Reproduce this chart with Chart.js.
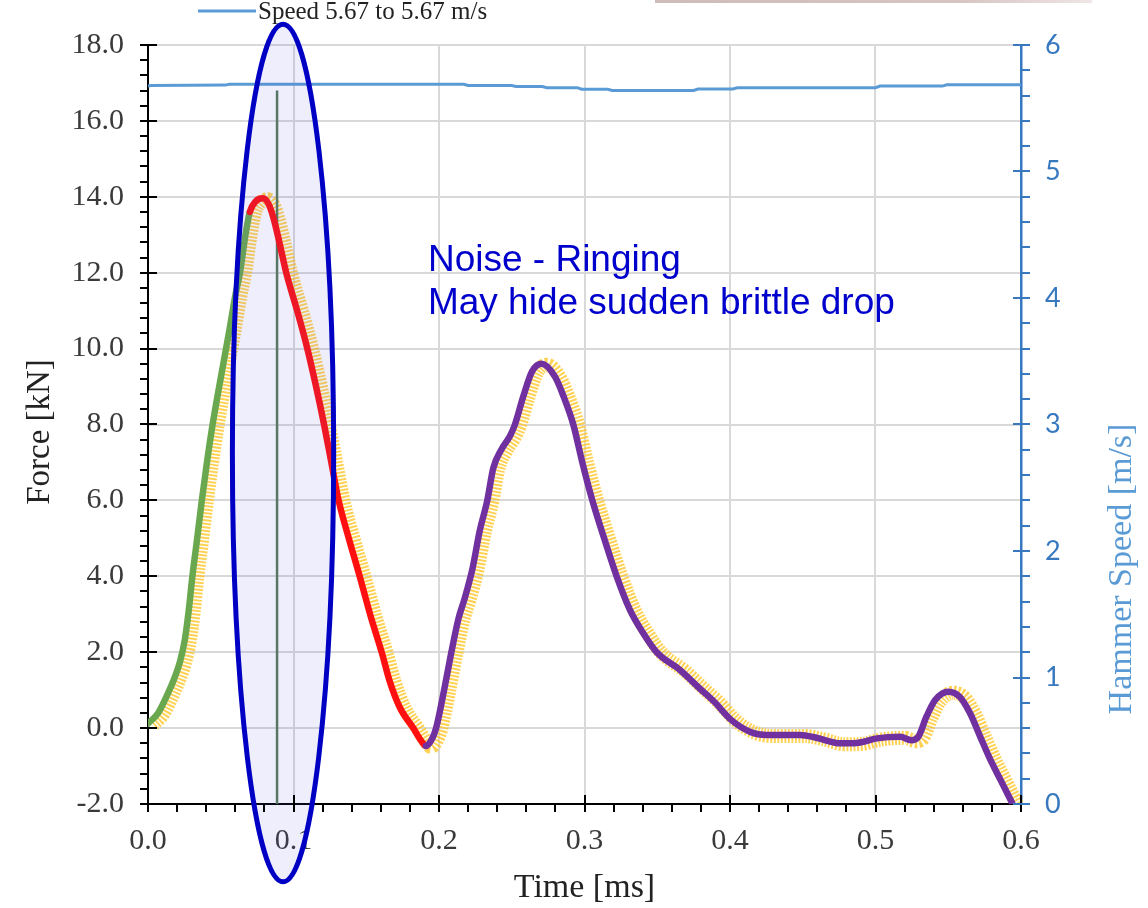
<!DOCTYPE html>
<html>
<head>
<meta charset="utf-8">
<title>Force and hammer speed vs time</title>
<script src="https://cdn.jsdelivr.net/npm/chart.js@4.4.1/dist/chart.umd.min.js"></script>
<style>
  html, body { margin:0; padding:0; background:#fff; }
  #wrap { position:relative; width:1148px; height:908px; }
  #topBar { position:absolute; left:655px; top:0; width:437px; height:3px;
            background:linear-gradient(90deg,#cdbcb9,#d6c5c3 70%,#efe6e5); }
</style>
</head>
<body>
<div id="wrap">
  <canvas id="forceChart"></canvas>
  <div id="topBar"></div>
</div>
<script>
// impact force trace [ms, kN]
const time = [0.000, 0.007, 0.014, 0.018, 0.022, 0.0254, 0.028, 0.0305, 0.0338, 0.037,
  0.0405, 0.0444, 0.048, 0.052, 0.056, 0.060, 0.0632, 0.067, 0.070, 0.074,
  0.079, 0.083, 0.086, 0.090, 0.095, 0.1025, 0.1095, 0.1155, 0.121, 0.126,
  0.131, 0.138, 0.1455, 0.153, 0.1606, 0.166, 0.173, 0.1823, 0.188, 0.191,
  0.195, 0.198, 0.203, 0.2085, 0.2135, 0.2175, 0.223, 0.228, 0.2332, 0.2373,
  0.243, 0.2488, 0.2522, 0.258, 0.264, 0.2706, 0.2797, 0.286, 0.2923, 0.2985,
  0.3054, 0.3135, 0.3221, 0.3313, 0.3404, 0.3496, 0.3656, 0.379, 0.389, 0.401,
  0.414, 0.425, 0.448, 0.460, 0.4756, 0.487, 0.501, 0.517, 0.5245, 0.5294,
  0.535, 0.541, 0.550, 0.558, 0.565, 0.572, 0.579, 0.586, 0.594];
const force = [0.12, 0.40, 0.94, 1.30, 1.75, 2.35, 3.10, 4.00, 5.00, 6.00,
  7.00, 8.00, 8.80, 9.65, 10.50, 11.40, 12.00, 13.00, 13.60, 13.88,
  13.96, 13.80, 13.47, 12.85, 12.00, 11.00, 10.00, 9.00, 8.00, 7.00,
  6.00, 5.00, 4.00, 2.95, 2.00, 1.25, 0.55, 0.00, -0.35, -0.47,
  -0.30, 0.00, 0.90, 2.00, 2.90, 3.40, 4.20, 5.20, 6.00, 6.85,
  7.35, 7.70, 8.00, 8.75, 9.40, 9.60, 9.26, 8.70, 8.00, 7.00,
  6.00, 5.00, 4.00, 3.11, 2.50, 2.00, 1.53, 1.05, 0.70, 0.21,
  -0.10, -0.18, -0.18, -0.26, -0.40, -0.39, -0.27, -0.23, -0.32, -0.23,
  0.30, 0.74, 0.96, 0.82, 0.39, -0.23, -0.84, -1.37, -1.98];

// phase boundaries of the filtered trace [ms]
const loadingEnd = 0.070;
const firstDropEnd = 0.191;

// hammer speed [ms, m/s]
const speedTime = [0.000, 0.002, 0.053, 0.056, 0.217, 0.220, 0.250, 0.253, 0.271, 0.274,
  0.295, 0.298, 0.316, 0.319, 0.375, 0.378, 0.402, 0.405, 0.500, 0.503,
  0.546, 0.549, 0.600];
const speed = [5.675, 5.680, 5.683, 5.690, 5.690, 5.680, 5.680, 5.672, 5.672, 5.663,
  5.663, 5.650, 5.650, 5.640, 5.640, 5.652, 5.652, 5.662, 5.662, 5.675,
  5.675, 5.685, 5.685];

// peak marker
const markTime = [0.0887, 0.0887];
const markForce = [-2.0, 16.8];

const speedLabel = 'Speed 5.67 to 5.67 m/s';
const noteLines = ['Noise - Ringing', 'May hide sudden brittle drop'];

const pts = (xs, ys) => xs.map((v, i) => ({ x: v, y: ys[i] }));

function phaseColor(t) {
  if (t < loadingEnd) return '#6aa84f';
  if (t < firstDropEnd) return '#ff1010';
  return '#7030a0';
}

const serif = 'Liberation Serif, Times New Roman, serif';

function sideTitle(ctx, text, cx, cy, size, color) {
  ctx.save();
  ctx.translate(cx, cy);
  ctx.rotate(-Math.PI / 2);
  ctx.fillStyle = color;
  ctx.font = size + 'px ' + serif;
  ctx.textAlign = 'center';
  ctx.textBaseline = 'middle';
  ctx.fillText(text, 0, 0);
  ctx.restore();
}

// shift the raw trace a little so it peeks out from under the filtered one
const rawShift = {
  id: 'rawShift',
  beforeDatasetDraw(chart, args) {
    if (args.index === 0) { chart.ctx.save(); chart.ctx.translate(5, 1); }
  },
  afterDatasetDraw(chart, args) {
    if (args.index === 0) chart.ctx.restore();
  }
};

const overlay = {
  id: 'overlay',
  afterDatasetsDraw(chart) {
    const { ctx, chartArea: a, scales: { x, y, y1 } } = chart;

    // highlighted region round the first peak
    const cx = x.getPixelForValue(0.0928), cy = y.getPixelForValue(7.25);
    const rx = x.getPixelForValue(0.0928 + 0.0348) - cx;
    const ry = cy - y.getPixelForValue(7.25 + 11.3);
    ctx.save();
    ctx.beginPath();
    ctx.ellipse(cx, cy, rx, ry, 0, 0, Math.PI * 2);
    ctx.fillStyle = 'rgba(90,90,225,0.10)';
    ctx.fill();
    ctx.lineWidth = 5;
    ctx.strokeStyle = '#0000c4';
    ctx.stroke();
    ctx.restore();

    // axis tick marks
    ctx.save();
    ctx.strokeStyle = '#000';
    ctx.lineWidth = 2;
    ctx.beginPath();
    for (let v = 0; v <= 0.6 + 1e-9; v += 0.02) {
      const major = Math.abs(v * 10 - Math.round(v * 10)) < 1e-6;
      const p = Math.round(x.getPixelForValue(v));
      ctx.moveTo(p, a.bottom - (major ? 9 : 0)); ctx.lineTo(p, a.bottom + 8);
    }
    for (let v = -2; v <= 18 + 1e-9; v += 0.4) {
      const major = Math.abs(v / 2 - Math.round(v / 2)) < 1e-6;
      const p = Math.round(y.getPixelForValue(v));
      ctx.moveTo(a.left - 8, p); ctx.lineTo(a.left + (major ? 9 : 0), p);
    }
    ctx.stroke();
    ctx.strokeStyle = '#3778bf';
    ctx.beginPath();
    for (let v = 0; v <= 6 + 1e-9; v += 0.2) {
      const major = Math.abs(v - Math.round(v)) < 1e-6;
      const p = Math.round(y1.getPixelForValue(v));
      ctx.moveTo(a.right - (major ? 8 : 0), p); ctx.lineTo(a.right + 9, p);
    }
    ctx.stroke();
    ctx.restore();

    // note text
    ctx.save();
    ctx.fillStyle = '#0000cc';
    ctx.font = '37px "Liberation Sans", Arial, sans-serif';
    ctx.textBaseline = 'alphabetic';
    ctx.fillText(noteLines[0], x.getPixelForValue(0.1924), y.getPixelForValue(12.04));
    ctx.fillText(noteLines[1], x.getPixelForValue(0.1924), y.getPixelForValue(10.90));
    ctx.restore();

    // legend for the speed trace
    ctx.save();
    ctx.strokeStyle = '#5b9bd5';
    ctx.lineWidth = 3;
    ctx.beginPath(); ctx.moveTo(198, 11); ctx.lineTo(256, 11); ctx.stroke();
    ctx.fillStyle = '#222';
    ctx.font = '25px ' + serif;
    ctx.textBaseline = 'alphabetic';
    ctx.fillText(speedLabel, 258, 19);
    ctx.restore();

    // axis titles on both sides read bottom to top
    sideTitle(ctx, 'Force [kN]', 40, 432, 33, '#222');
    sideTitle(ctx, 'Hammer Speed [m/s]', 1122, 569, 34, '#5b9bd5');
  }
};

new Chart(document.getElementById('forceChart'), {
  type: 'line',
  data: {
    datasets: [
      {
        label: 'Raw force',
        data: pts(time, force),
        yAxisID: 'y',
        borderColor: 'rgba(255,195,30,0.75)',
        borderWidth: 14,
        borderDash: [2, 1.5],
        pointRadius: 0,
        cubicInterpolationMode: 'monotone',
        order: 3
      },
      {
        label: 'Filtered force',
        data: pts(time, force),
        yAxisID: 'y',
        borderWidth: 6.5,
        borderCapStyle: 'round',
        borderJoinStyle: 'round',
        segment: { borderColor: c => phaseColor(c.p0.parsed.x) },
        pointRadius: 0,
        cubicInterpolationMode: 'monotone',
        order: 1
      },
      {
        label: 'Peak',
        data: pts(markTime, markForce),
        yAxisID: 'y',
        borderColor: '#587a58',
        borderWidth: 2.5,
        pointRadius: 0,
        order: 2
      },
      {
        label: speedLabel,
        data: pts(speedTime, speed),
        yAxisID: 'y1',
        borderColor: '#5b9bd5',
        borderWidth: 3,
        pointRadius: 0,
        order: 0
      }
    ]
  },
  options: {
    responsive: true,
    maintainAspectRatio: false,
    animation: false,
    events: [],
    layout: { padding: { top: 45, left: 0, right: 0, bottom: 0 } },
    plugins: { legend: { display: false }, tooltip: { enabled: false } },
    scales: {
      x: {
        type: 'linear', min: 0, max: 0.6,
        ticks: { stepSize: 0.1, callback: v => v.toFixed(1), padding: 19,
                 color: '#3a3a3a', font: { family: serif, size: 30 } },
        grid: { color: '#d9d9d9', lineWidth: 2, drawTicks: false },
        border: { color: '#000', width: 2 },
        title: { display: true, text: 'Time [ms]', color: '#222',
                 font: { family: serif, size: 34 }, padding: { top: 0, bottom: 0 } },
        afterFit(s) { s.height = 104; }
      },
      y: {
        position: 'left', min: -2, max: 18,
        ticks: { stepSize: 2, callback: v => v.toFixed(1), padding: 24,
                 color: '#3a3a3a', font: { family: serif, size: 30 } },
        grid: { color: '#d9d9d9', lineWidth: 2, drawTicks: false },
        border: { color: '#000', width: 2 },
        afterFit(s) { s.width = 148; }
      },
      y1: {
        position: 'right', min: 0, max: 6,
        ticks: { stepSize: 1, padding: 24, color: '#3778bf',
                 font: { family: 'Lato, sans-serif', size: 27 } },
        grid: { display: false, drawTicks: false },
        border: { color: '#3778bf', width: 2.5 },
        afterFit(s) { s.width = 127; }
      }
    }
  },
  plugins: [rawShift, overlay]
});
</script>
</body>
</html>
